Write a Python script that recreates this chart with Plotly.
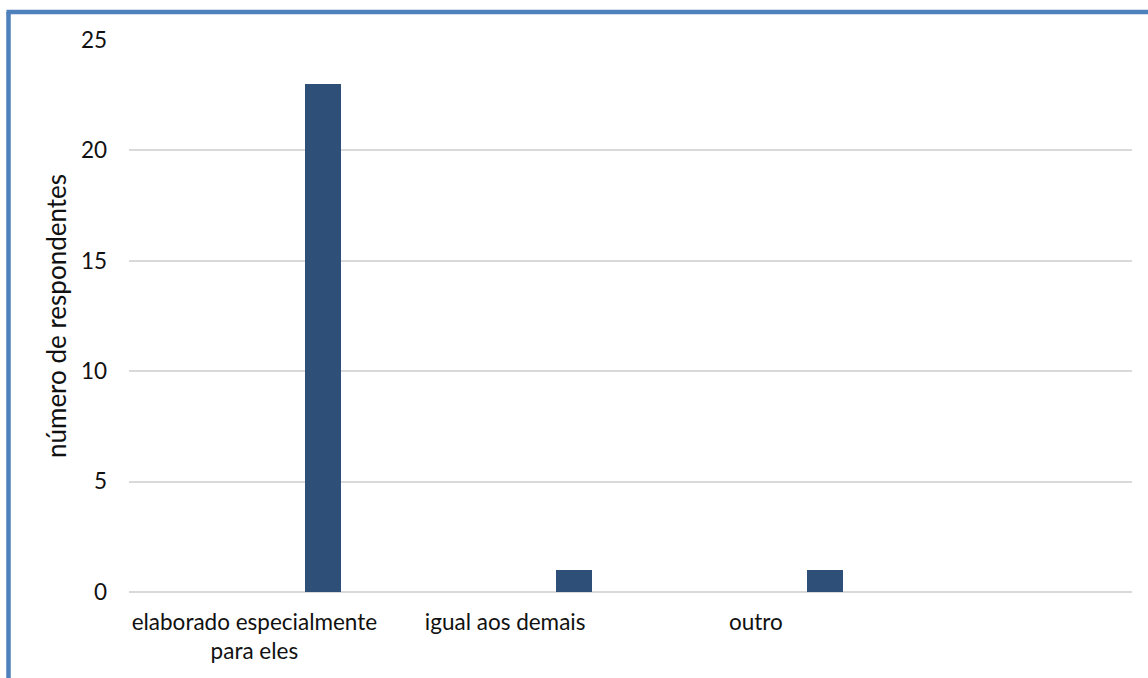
import plotly.graph_objects as go

# Respostas por tipo de material
categorias = ["elaborado especialmente<br>para eles", "igual aos demais", "outro"]
respondentes = [23, 1, 1]
y_ticks = [0, 5, 10, 15, 20, 25]

FONT = "Lato, Calibri, Carlito, sans-serif"
BAR_COLOR = "#2E5078"
FRAME_COLOR = "#4F81BD"
GRID_COLOR = "#D9D9D9"
TEXT_COLOR = "#111111"

W, H = 1148, 678
L, R, T, B = 129, 16, 40, 86

fig = go.Figure()
fig.add_trace(go.Bar(
    x=list(range(len(categorias))),
    y=respondentes,
    width=0.144,
    offset=0.203,
    marker=dict(color=BAR_COLOR, line=dict(width=0)),
    hoverinfo="skip",
))

plot_w = W - L - R
plot_h = H - T - B

def px_x(px):
    return (px - L) / plot_w

def px_y(py):
    return 1 - (py - T) / plot_h

# frame around the chart area (left and top edges visible)
fig.add_shape(type="line", xref="paper", yref="paper",
              x0=px_x(8.5), x1=px_x(8.5), y0=px_y(12), y1=px_y(H + 10),
              line=dict(color=FRAME_COLOR, width=4.5), layer="above")
fig.add_shape(type="line", xref="paper", yref="paper",
              x0=px_x(6.5), x1=px_x(W + 10), y0=px_y(12), y1=px_y(12),
              line=dict(color=FRAME_COLOR, width=4.5), layer="above")

fig.update_layout(
    width=W, height=H,
    margin=dict(l=L, r=R, t=T, b=B, pad=0),
    paper_bgcolor="white",
    plot_bgcolor="white",
    showlegend=False,
    bargap=0,
    font=dict(family=FONT, size=22, color=TEXT_COLOR),
    xaxis=dict(
        range=[-0.5, 3.5],
        tickmode="array",
        tickvals=list(range(len(categorias))),
        ticktext=categorias,
        showgrid=False,
        zeroline=False,
        showline=False,
        ticks="",
        ticklabelstandoff=14,
        tickfont=dict(family=FONT, size=22.5, color=TEXT_COLOR),
        fixedrange=True,
    ),
    yaxis=dict(
        range=[0, 25],
        tickmode="array",
        tickvals=y_ticks,
        showgrid=True,
        gridcolor=GRID_COLOR,
        gridwidth=2,
        zeroline=True,
        zerolinecolor=GRID_COLOR,
        zerolinewidth=2,
        showline=False,
        ticks="",
        ticklabelstandoff=21,
        tickfont=dict(family=FONT, size=22.5, color=TEXT_COLOR),
        title=dict(text="número de respondentes", standoff=6,
                   font=dict(family=FONT, size=26, color=TEXT_COLOR)),
        fixedrange=True,
    ),
)

fig.write_html("out.html")
